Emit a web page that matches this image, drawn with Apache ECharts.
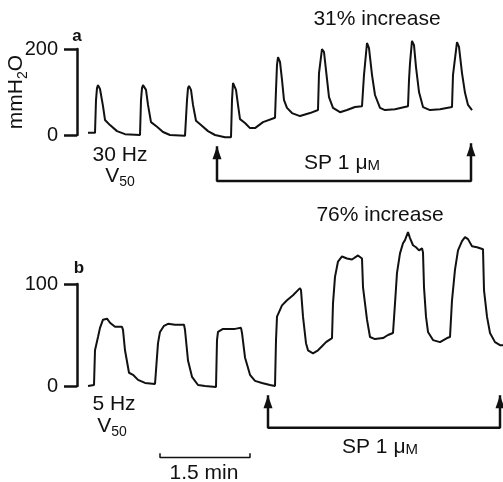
<!DOCTYPE html>
<html>
<head>
<meta charset="utf-8">
<script src="https://cdn.jsdelivr.net/npm/echarts@6/dist/echarts.min.js"></script>
<style>
  html, body { margin: 0; padding: 0; background: #fff; }
  #chart { width: 503px; height: 482px; }
</style>
</head>
<body>
<div id="chart"></div>
<script>
// trace a: 30 Hz, time in s, pressure in mmH2O
const traceATime = [0, 7, 8, 9, 10, 12, 15, 17, 22, 29, 37, 52,
  53, 54, 55, 58, 60, 63, 69, 75, 82, 97,
  99, 100, 101, 103, 105, 108, 113, 120, 127, 137, 143,
  144, 145, 148, 150, 152, 157, 162, 167, 175, 187,
  188, 189, 190, 192, 194, 196, 199, 204, 212, 222, 230,
  231, 234, 236, 238, 241, 245, 252, 259, 267, 274,
  276, 279, 281, 284, 287, 292, 297, 307, 320,
  321, 322, 324, 326, 328, 331, 335, 342, 352, 364,
  365, 369, 371, 374, 377, 380, 384];
const traceAValue = [5, 5, 81, 109, 116, 107, 67, 35, 23, 9, 2, 0,
  81, 109, 116, 105, 70, 30, 19, 7, 0, -2,
  81, 109, 114, 105, 70, 33, 23, 9, 0, -5, -5,
  81, 121, 105, 70, 37, 28, 16, 16, 30, 40,
  105, 163, 181, 170, 128, 81, 63, 51, 44, 51, 58,
  144, 200, 193, 151, 88, 63, 53, 58, 65, 67,
  140, 214, 202, 140, 93, 63, 58, 60, 67,
  128, 167, 219, 209, 158, 100, 65, 58, 60, 65,
  140, 216, 205, 144, 98, 70, 58];

// trace b: 5 Hz
const traceBTime = [0, 6, 7, 10, 12, 15, 16, 19, 22, 27, 34, 35, 37, 41, 45, 50, 57, 67,
  68, 70, 72, 76, 80, 87, 96, 97, 100, 104, 110, 117, 128,
  129, 130, 135, 147, 153, 154, 157, 162, 167, 174, 182, 187,
  188, 189, 194, 199, 205, 210, 212, 213, 215, 218, 220, 225, 230, 234, 238, 244,
  245, 247, 250, 254, 259, 264, 270, 274, 275, 279, 282, 287, 295, 300, 305,
  307, 309, 312, 315, 317, 320, 322, 325, 328, 331, 334, 335, 336, 338, 340, 345, 352, 359, 362,
  364, 367, 370, 374, 377, 380, 384, 389, 392, 395, 396, 399, 402, 407, 412, 415];
const traceBValue = [0, 1, 35, 48, 57, 65, 64, 66, 62, 58, 58, 55, 35, 13, 11, 6, 3, 2,
  2, 42, 53, 59, 61, 60, 60, 55, 25, 9, 1, 0, -1,
  45, 53, 56, 56, 57, 52, 28, 11, 5, 3, 1, 0,
  45, 68, 79, 84, 89, 94, 96, 94, 68, 42, 35, 32, 35, 39, 43, 47,
  81, 107, 122, 127, 125, 124, 128, 125, 97, 65, 48, 46, 47, 50, 52,
  81, 111, 130, 140, 143, 151, 145, 138, 136, 133, 135, 131, 97, 68, 53, 45, 43, 47, 48,
  84, 114, 133, 142, 146, 144, 137, 136, 135, 134, 94, 68, 52, 43, 40, 40];

// SP 1 uM application (start, end in s)
const spA = [129, 383];
const spB = [180, 412];
const scaleBar = [72, 162]; // 1.5 min

const font = 'Liberation Sans, Arial, Helvetica, sans-serif';
const ink = '#111';

function pairs(t, v) {
  return t.map((x, i) => [x, v[i]]);
}

function arrowLine(span, tipL, tipR, base) {
  const head = { symbol: 'triangle', symbolSize: [9, 13], symbolOffset: [0, '50%'] };
  return [
    Object.assign({ value: [span[0], tipL] }, head),
    { value: [span[0], base], symbol: 'none' },
    { value: [span[1], base], symbol: 'none' },
    Object.assign({ value: [span[1], tipR] }, head)
  ];
}

const sub = {
  m: { fontSize: 21, fontFamily: font, color: ink, lineHeight: 21, verticalAlign: 'top' },
  s: { fontSize: 14, fontFamily: font, color: ink, lineHeight: 14, verticalAlign: 'top', padding: [10, 0, 0, 0] },
  c: { fontSize: 15, fontFamily: font, color: ink, lineHeight: 15, verticalAlign: 'top', padding: [6, 0, 0, 0] }
};

function yAxisOf(grid, max, name) {
  return {
    gridIndex: grid, type: 'value', min: 0, max: max, interval: max, offset: 11,
    axisLine: { show: true, onZero: false, lineStyle: { color: ink, width: 2.5 } },
    axisTick: { show: true, length: 13, lineStyle: { color: ink, width: 2.5 } },
    axisLabel: { fontSize: 20, fontFamily: font, color: ink, margin: 19 },
    splitLine: { show: false },
    name: name, nameLocation: 'middle', nameRotate: 90, nameGap: 50,
    nameMoveOverlap: false,
    nameTextStyle: { rich: sub }
  };
}

function text(str, x, y, extra) {
  return {
    type: 'text', x: x, y: y,
    style: Object.assign({
      text: str, fill: ink, font: '21px ' + font,
      textAlign: 'center', textVerticalAlign: 'middle', rich: sub
    }, extra || {})
  };
}

const chart = echarts.init(document.getElementById('chart'));
const lineStyle = { color: ink, width: 2 };

chart.setOption({
  animation: false,
  grid: [
    { left: 88, right: 0, top: 49, height: 86, outerBoundsMode: 'none', containLabel: false },
    { left: 88, right: 0, top: 284, height: 102, outerBoundsMode: 'none', containLabel: false }
  ],
  xAxis: [
    { gridIndex: 0, type: 'value', min: 0, max: 415, show: false },
    { gridIndex: 1, type: 'value', min: 0, max: 415, show: false }
  ],
  yAxis: [
    yAxisOf(0, 200, '{m|mmH}{s|2}{m|O}'),
    yAxisOf(1, 100, '')
  ],
  series: [
    {
      type: 'line', xAxisIndex: 0, yAxisIndex: 0, clip: false,
      data: pairs(traceATime, traceAValue), symbol: 'none', lineStyle: lineStyle
    },
    {
      type: 'line', xAxisIndex: 1, yAxisIndex: 1, clip: false,
      data: pairs(traceBTime, traceBValue), symbol: 'none', lineStyle: lineStyle
    },
    {
      type: 'line', xAxisIndex: 0, yAxisIndex: 0, clip: false, showSymbol: true,
      data: arrowLine(spA, -26, -19, -107), symbol: 'none',
      itemStyle: { color: ink }, lineStyle: { color: ink, width: 2.5 }
    },
    {
      type: 'line', xAxisIndex: 1, yAxisIndex: 1, clip: false, showSymbol: true,
      data: arrowLine(spB, -9, -9, -41), symbol: 'none',
      itemStyle: { color: ink }, lineStyle: { color: ink, width: 2.5 }
    },
    {
      type: 'line', xAxisIndex: 1, yAxisIndex: 1, clip: false, symbol: 'none',
      data: [[scaleBar[0], -66], [scaleBar[0], -70], [scaleBar[1], -70], [scaleBar[1], -66]],
      lineStyle: { color: ink, width: 1.5 }
    }
  ],
  graphic: [
    text('a', 77, 36, { font: 'bold 17px ' + font }),
    text('b', 79, 268, { font: 'bold 17px ' + font }),
    text('31% increase', 377, 19),
    text('76% increase', 380, 215),
    text('{m|SP 1 μ}{c|M}', 342, 163),
    text('{m|SP 1 μ}{c|M}', 380, 447),
    text('30 Hz', 120, 155),
    text('{m|V}{s|50}', 120, 176),
    text('5 Hz', 114, 404),
    text('{m|V}{s|50}', 112, 426),
    text('1.5 min', 204, 473)
  ]
});
</script>
</body>
</html>
